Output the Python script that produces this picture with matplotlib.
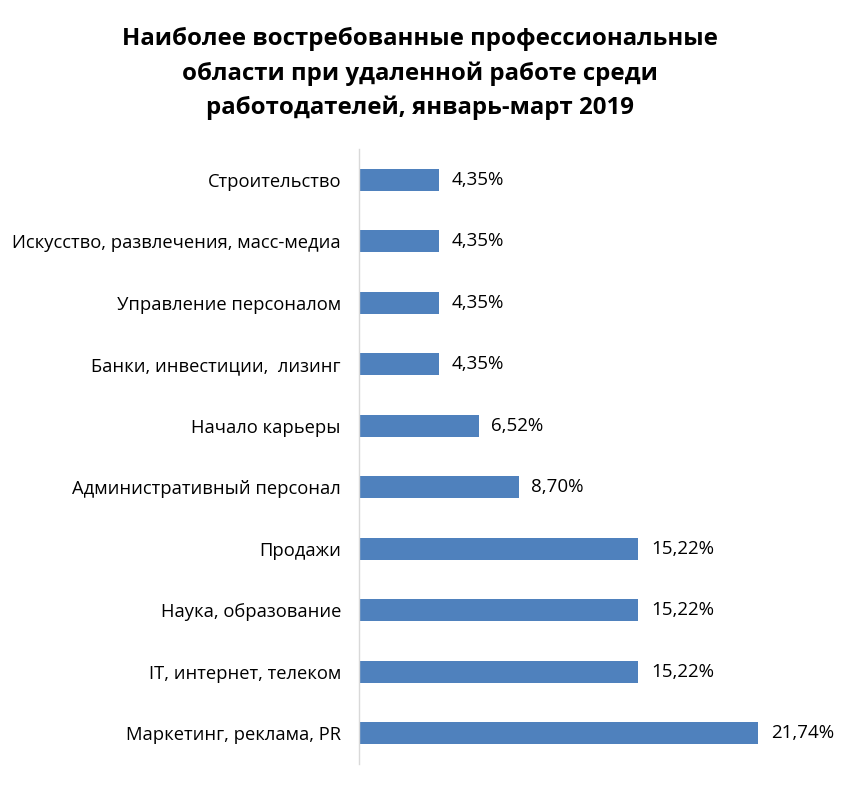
import matplotlib
matplotlib.use("Agg")
import matplotlib.pyplot as plt

categories = ["Строительство", "Искусство, развлечения, масс-медиа", "Управление персоналом",
              "Банки, инвестиции,  лизинг", "Начало карьеры", "Административный персонал",
              "Продажи", "Наука, образование", "IT, интернет, телеком", "Маркетинг, реклама, PR"]
values = [4.35, 4.35, 4.35, 4.35, 6.52, 8.70, 15.22, 15.22, 15.22, 21.74]
labels = ["4,35%", "4,35%", "4,35%", "4,35%", "6,52%", "8,70%", "15,22%", "15,22%", "15,22%", "21,74%"]
title = "Наиболее востребованные профессиональные\nобласти при удаленной работе среди\nработодателей, январь-март 2019"

plt.rcParams['font.family'] = ['Open Sans', 'DejaVu Sans']
W, H = 841, 786
fig = plt.figure(figsize=(W/100, H/100), dpi=100)
ax = fig.add_axes([359/W, 1-764/H, (W-359)/W, 615/H])
ypos = list(range(len(categories)))
ax.barh(ypos, values, height=0.36, color="#4F81BD")
ax.set_ylim(len(categories)-0.5, -0.5)
ax.set_xlim(0, (W-359)/18.35)
ax.set_yticks(ypos)
ax.set_yticklabels(categories, fontsize=13.2, color="#000000")
ax.tick_params(axis='y', length=0, pad=13)
ax.set_xticks([])
for s in ["top", "right", "bottom"]:
    ax.spines[s].set_visible(False)
ax.spines["left"].set_color("#D9D9D9")
ax.spines["left"].set_linewidth(1)
for y, v, t in zip(ypos, values, labels):
    ax.text(v + 0.7, y, t, va="center", ha="left", fontsize=13.5, color="#000000")
fig.text(420/W, 1-73.5/H, title, ha="center", va="center", fontsize=17.3, fontweight="bold",
         linespacing=1.52)
fig.savefig("out.png", dpi=100)
